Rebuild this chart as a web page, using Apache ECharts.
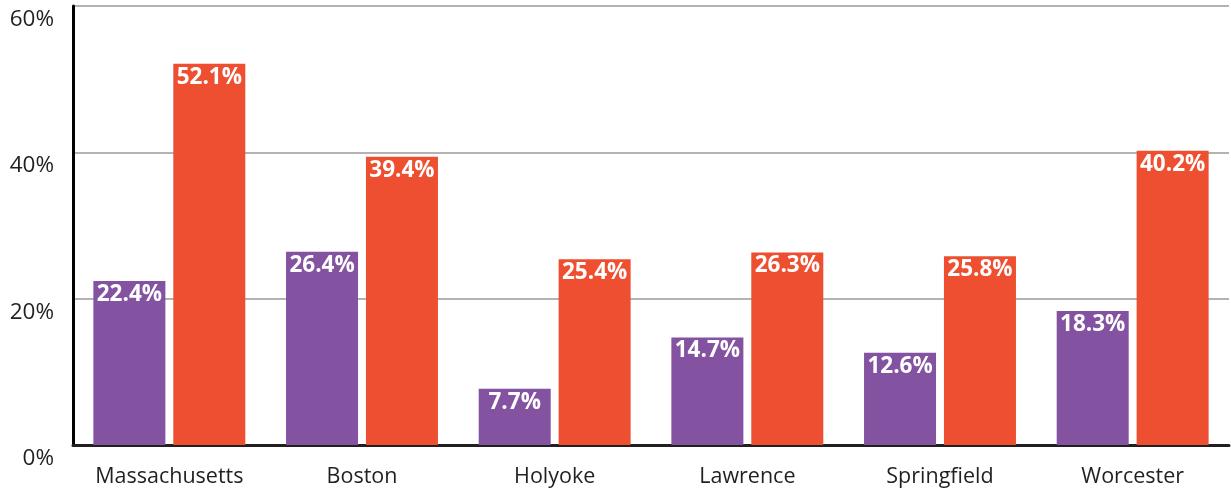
<!DOCTYPE html>
<html>
<head>
<meta charset="utf-8">
<script src="https://cdn.jsdelivr.net/npm/echarts@6/dist/echarts.min.js"></script>
<style>
  html, body { margin: 0; padding: 0; background: #fff; }
  #chart { width: 1231px; height: 492px; }
</style>
</head>
<body>
<div id="chart"></div>
<script>
const cities = ['Massachusetts', 'Boston', 'Holyoke', 'Lawrence', 'Springfield', 'Worcester']
const purpleValues = [22.4, 26.4, 7.7, 14.7, 12.6, 18.3]
const orangeValues = [52.1, 39.4, 25.4, 26.3, 25.8, 40.2]
const yTicks = [0, 20, 40, 60]

const fontFamily = '"Open Sans", "Noto Sans", sans-serif'

const barLabel = {
  show: true,
  position: 'insideTop',
  distance: 2,
  color: '#fff',
  fontWeight: 'bold',
  fontSize: 22.5,
  fontFamily: fontFamily,
  formatter: p => p.value.toFixed(1) + '%'
}

const chart = echarts.init(document.getElementById('chart'))

chart.setOption({
  animation: false,
  grid: { left: 73, right: 2, top: 6, bottom: 47 },
  xAxis: {
    type: 'category',
    data: cities,
    axisLine: { show: true, lineStyle: { color: '#231f20', width: 3 } },
    axisTick: { show: false },
    axisLabel: {
      interval: 0,
      color: '#231f20',
      fontSize: 21.5,
      fontFamily: fontFamily,
      margin: 21
    }
  },
  yAxis: {
    type: 'value',
    min: yTicks[0],
    max: yTicks[yTicks.length - 1],
    interval: 20,
    axisLine: { show: true, lineStyle: { color: '#000', width: 3 } },
    axisTick: { show: false },
    splitLine: { lineStyle: { color: '#9a9a9a', width: 1.5 } },
    axisLabel: {
      color: '#231f20',
      fontSize: 22.5,
      fontFamily: fontFamily,
      margin: 19,
      verticalAlign: 'top',
      padding: [2, 0, 0, 0],
      formatter: v => v + '%'
    }
  },
  series: [
    {
      name: 'purple',
      type: 'bar',
      data: purpleValues,
      barWidth: 72,
      barGap: '11%',
      itemStyle: { color: '#8352a1' },
      label: barLabel
    },
    {
      name: 'orange',
      type: 'bar',
      data: orangeValues,
      barWidth: 72,
      itemStyle: { color: '#ee4f30' },
      label: barLabel
    }
  ]
})
</script>
</body>
</html>
